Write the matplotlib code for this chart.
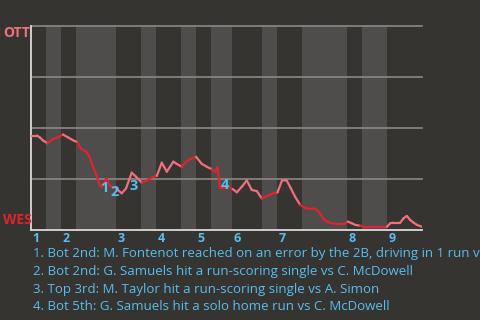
import matplotlib
matplotlib.use("Agg")
import matplotlib.pyplot as plt
from matplotlib.collections import LineCollection
from matplotlib.transforms import blended_transform_factory
import numpy as np

# ---- data ----
# x: plate-appearance index, p: OTT win probability (1 = OTT, 0 = WES)
wp_x = [0.0, 1.20, 1.80, 2.40, 3.29, 4.39, 5.49, 6.39, 7.39, 8.38, 9.28, 9.92, 10.38,
        11.04, 11.72, 12.38, 13.03, 13.71, 14.17, 14.67, 15.07, 15.77, 16.97, 18.10,
        18.96, 20.10, 20.96, 22.10, 23.09, 24.09, 25.09, 26.09, 27.09, 28.40, 29.08,
        30.08, 30.74, 31.74, 32.93, 34.07, 35.07, 36.07, 36.73, 37.19, 37.72, 38.52,
        39.38, 40.26, 41.06, 42.06, 43.05, 44.05, 45.05, 46.05, 47.05, 48.36, 49.16,
        50.10, 51.00, 51.80, 52.69, 53.69, 54.69, 55.69, 56.35, 56.89, 57.68, 58.22,
        59.02, 60.02, 61.02, 62.34, 63.21, 64.01, 64.67, 65.67, 66.33, 71.00, 71.66,
        72.20, 73.65, 74.31, 74.99, 75.65, 76.31, 76.99, 77.98]
wp_p = [0.463, 0.463, 0.453, 0.439, 0.425, 0.446, 0.456, 0.468, 0.454, 0.440, 0.430,
        0.400, 0.392, 0.384, 0.356, 0.310, 0.270, 0.221, 0.212, 0.235, 0.253, 0.216,
        0.204, 0.180, 0.204, 0.281, 0.261, 0.232, 0.242, 0.258, 0.265, 0.330, 0.286,
        0.335, 0.324, 0.310, 0.330, 0.347, 0.359, 0.324, 0.310, 0.298, 0.286, 0.307,
        0.204, 0.204, 0.212, 0.200, 0.185, 0.212, 0.243, 0.196, 0.191, 0.154, 0.167,
        0.180, 0.184, 0.244, 0.243, 0.206, 0.163, 0.123, 0.108, 0.103, 0.106, 0.101,
        0.081, 0.057, 0.041, 0.033, 0.029, 0.029, 0.041, 0.033, 0.025, 0.021, 0.016,
        0.016, 0.033, 0.036, 0.036, 0.057, 0.069, 0.049, 0.036, 0.025, 0.016]

# half-inning boundaries (plate appearances); bottom halves are shaded
bottom_start = [3, 9, 22, 30, 36, 46, 54, 66]
bottom_end = [6, 17, 25, 33, 40, 49, 63, 71]
total_pa = 78

inning_labels = ["1", "2", "3", "4", "5", "6", "7", "8", "9"]
inning_start = [0, 6, 17, 25, 33, 40, 49, 63, 71]

event_labels = ["1", "2", "3", "4"]
event_x = [14.67, 16.63, 20.56, 38.66]
event_p = [0.206, 0.186, 0.214, 0.221]

notes = [
    "1. Bot 2nd: M. Fontenot reached on an error by the 2B, driving in 1 run vs C. McDowell",
    "2. Bot 2nd: G. Samuels hit a run-scoring single vs C. McDowell",
    "3. Top 3rd: M. Taylor hit a run-scoring single vs A. Simon",
    "4. Bot 5th: G. Samuels hit a solo home run vs C. McDowell",
]
team_top = "OTT"
team_bottom = "WES"

# ---- style ----
BG = "#363431"
BAND = "#4e4d4b"
GRID = "#8a8986"
SPINE = "#cfcfcf"
PINK = "#f0707c"
RED = "#e0232f"
BLUE = "#58bdf0"
FONT = "Open Sans"

W, H = 480, 320
fig = plt.figure(figsize=(4.8, 3.2), dpi=100, facecolor=BG)
L, R, T, B = 31, 422, 26, 230
ax = fig.add_axes([L / W, 1 - B / H, (R - L) / W, (B - T) / H])
ax.set_facecolor(BG)
ax.set_xlim(0, total_pa)
ax.set_ylim(0, 1)

for s, e in zip(bottom_start, bottom_end):
    ax.axvspan(s, e, color=BAND, lw=0, zorder=0)

for gy in [0.25, 0.5, 0.75, 1.0]:
    ax.axhline(gy, color=GRID, lw=1.2, zorder=1, clip_on=False)

for side in ["top", "right"]:
    ax.spines[side].set_visible(False)
for side in ["left", "bottom"]:
    ax.spines[side].set_color(SPINE)
    ax.spines[side].set_linewidth(1.4)
ax.set_xticks([])
ax.set_yticks([])

# win probability line, red during bottom halves
pts = np.column_stack([wp_x, wp_p])
segs = np.stack([pts[:-1], pts[1:]], axis=1)
cols = []
for sgm in segs:
    mid = (sgm[0, 0] + sgm[1, 0]) / 2
    in_bot = any(s <= mid < e for s, e in zip(bottom_start, bottom_end))
    cols.append(RED if in_bot else PINK)
lc = LineCollection(segs, colors=cols, linewidths=1.6, zorder=3, capstyle="round",
                    joinstyle="round")
ax.add_collection(lc)

for lab, x, p in zip(event_labels, event_x, event_p):
    ax.text(x, p, lab, color=BLUE, fontsize=10.5, fontweight="bold", family=FONT,
            ha="center", va="center", zorder=4)

trans = blended_transform_factory(ax.transData, ax.transAxes)
for lab, x in zip(inning_labels, inning_start):
    ax.text(x + 0.3, -0.04, lab, color=BLUE, fontsize=9, fontweight="bold",
            family=FONT, ha="left", va="center", transform=trans)

fig.text(3 / W, 1 - 33 / H, team_top, color=PINK, fontsize=10, fontweight="bold",
         family=FONT, ha="left", va="center")
fig.text(3 / W, 1 - 220 / H, team_bottom, color=RED, fontsize=10, fontweight="bold",
         family=FONT, ha="left", va="center")

for i, line in enumerate(notes):
    fig.text(33 / W, 1 - (254 + 17.6 * i) / H, line, color=BLUE, fontsize=9.5,
             family=FONT, ha="left", va="center")

fig.savefig("out.png", dpi=100, facecolor=BG)
